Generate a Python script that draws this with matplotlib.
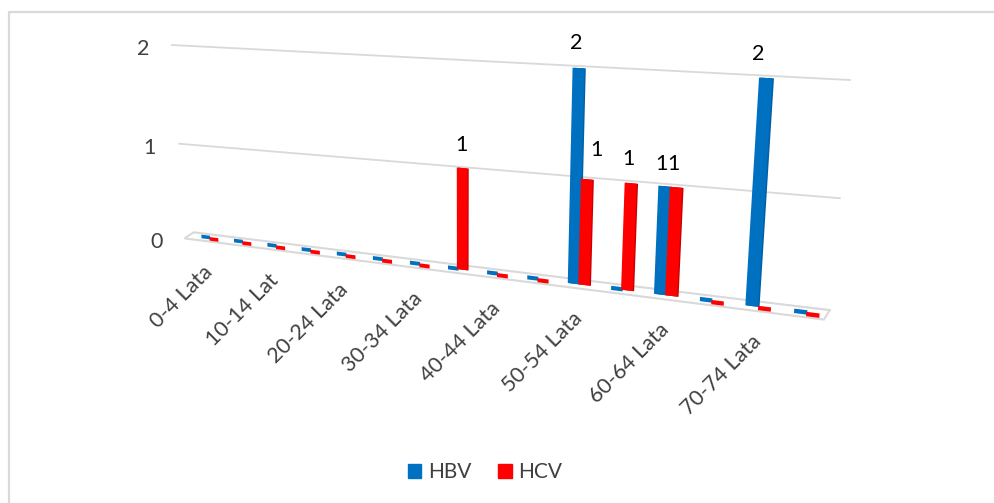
import numpy as np
from matplotlib import pyplot as plt
from matplotlib import transforms as mtransforms
from matplotlib.patches import Patch

plt.rcParams['font.family'] = ['Lato', 'DejaVu Sans']

categories = ['0-4 Lata', '5-9 Lata', '10-14 Lat', '15-19 Lata', '20-24 Lata',
              '25-29 Lata', '30-34 Lata', '35-39 Lata', '40-44 Lata', '45-49 Lata',
              '50-54 Lata', '55-59 Lata', '60-64 Lata', '65-69 Lata', '70-74 Lata',
              '75+ Lata']
hbv = [0, 0, 0, 0, 0, 0, 0, 0, 0, 0, 2, 0, 1, 0, 2, 0]
hcv = [0, 0, 0, 0, 0, 0, 0, 1, 0, 0, 1, 1, 1, 0, 0, 0]
y_ticks = [0, 1, 2]

BLUE, BLUE_SIDE = '#0070C0', '#005FA6'
RED, RED_SIDE = '#FF0000', '#C80000'
GRID = '#D9D9D9'
TEXT = '#404040'
WIDTH = 0.27


class Perspective(mtransforms.Transform):
    """Projects (category, value) onto picture pixels, as the 3D chart does."""
    input_dims = 2
    output_dims = 2
    is_separable = False

    def __init__(self, src, dst):
        super().__init__()
        rows, rhs = [], []
        for (x, y), (u, v) in zip(src, dst):
            rows.append([x, y, 1, 0, 0, 0, -u * x, -u * y])
            rows.append([0, 0, 0, x, y, 1, -v * x, -v * y])
            rhs += [u, v]
        self.h = np.append(np.linalg.solve(rows, rhs), 1).reshape(3, 3)

    def transform_non_affine(self, values):
        pts = np.column_stack([values, np.ones(len(values))]) @ self.h.T
        return pts[:, :2] / pts[:, 2:]


fig = plt.figure(figsize=(9.95, 5.03), dpi=100)
ax = fig.add_axes([0, 0, 1, 1])
ax.set_autoscale_on(False)
ax.set_xlim(0, 995)
ax.set_ylim(503, 0)
ax.axis('off')

# one plane for the back wall, one for the bars standing in front of it
wall = Perspective([(0, 0), (16, 0), (0, 2), (16, 2)],
                   [(186, 238), (830, 310), (172, 45), (850, 80)]) + ax.transData
front = Perspective([(0.5, 0), (15.5, 0), (0.5, 2), (15.5, 2)],
                    [(210, 238), (807, 313), (200, 48), (824, 81)]) + ax.transData

# chart frame
ax.plot([9, 9, 995], [503, 12, 12], color=GRID, lw=1.6, clip_on=False)

for v in y_ticks:
    ax.plot([0, 16], [v, v], color=GRID, lw=1.3, transform=wall, zorder=1)
    ax.annotate(str(v), xy=(0, v), xycoords=wall, xytext=(-23, -4),
                textcoords='offset pixels', ha='right', va='center',
                fontsize=15.5, color=TEXT)

# floor slab
ax.fill([-0.3, 15.85, 15.95, 0.0], [-0.04, -0.04, 0.05, 0.04],
        facecolor='white', edgecolor=GRID, lw=1.5, transform=front, zorder=2)

z = 3
for i in range(len(categories)):
    for values, off, lift, color, side in ((hbv, -0.15, 0.005, BLUE, BLUE_SIDE),
                                           (hcv, 0.1, -0.01, RED, RED_SIDE)):
        v = values[i]
        x = i + 0.5 + off
        if v > 0:
            ax.bar(x + 0.03, v, WIDTH, color=side, transform=front, zorder=z)
            ax.bar(x, v, WIDTH, color=color, transform=front, zorder=z + 0.1)
        else:
            # top face, the only part left of a zero bar
            ax.bar(x + 0.02, 0.04, WIDTH, bottom=v - 0.02 + lift, color=color,
                   transform=front, zorder=z + 0.2)
        z += 1

# hand nudges where the labels were moved in the original
nudges = {(0, 10): (-2, 25), (1, 7): (-1, 23), (1, 10): (10, 29), (1, 11): (-2, 24),
          (0, 12): (-3, 22), (1, 12): (-2, 23), (0, 14): (-8, 24)}
for s, (values, off) in enumerate(((hbv, -0.15), (hcv, 0.1))):
    for i, v in enumerate(values):
        if v > 0:
            dx, dy = nudges[(s, i)]
            ax.annotate(str(v), xy=(i + 0.5 + off, v), xycoords=front,
                        xytext=(dx, dy), textcoords='offset pixels',
                        ha='center', va='center', fontsize=15.5, color='black',
                        zorder=100)

for i in range(0, len(categories), 2):
    ax.annotate(categories[i], xy=(i + 0.5, 0), xycoords=front, xytext=(-1, -31),
                textcoords='offset pixels', rotation=45, rotation_mode='anchor',
                ha='right', va='center', fontsize=15.5, color=TEXT)

handles = [Patch(color=BLUE, label='HBV'), Patch(color=RED, label='HCV')]
ax.legend(handles=handles, ncol=2, loc='center', bbox_to_anchor=(485 / 995, 1 - 472 / 503),
          frameon=False, fontsize=15, handlelength=0.65, handleheight=0.65,
          handletextpad=0.31, columnspacing=1.3, labelcolor=TEXT)

fig.savefig('out.png', dpi=100)
